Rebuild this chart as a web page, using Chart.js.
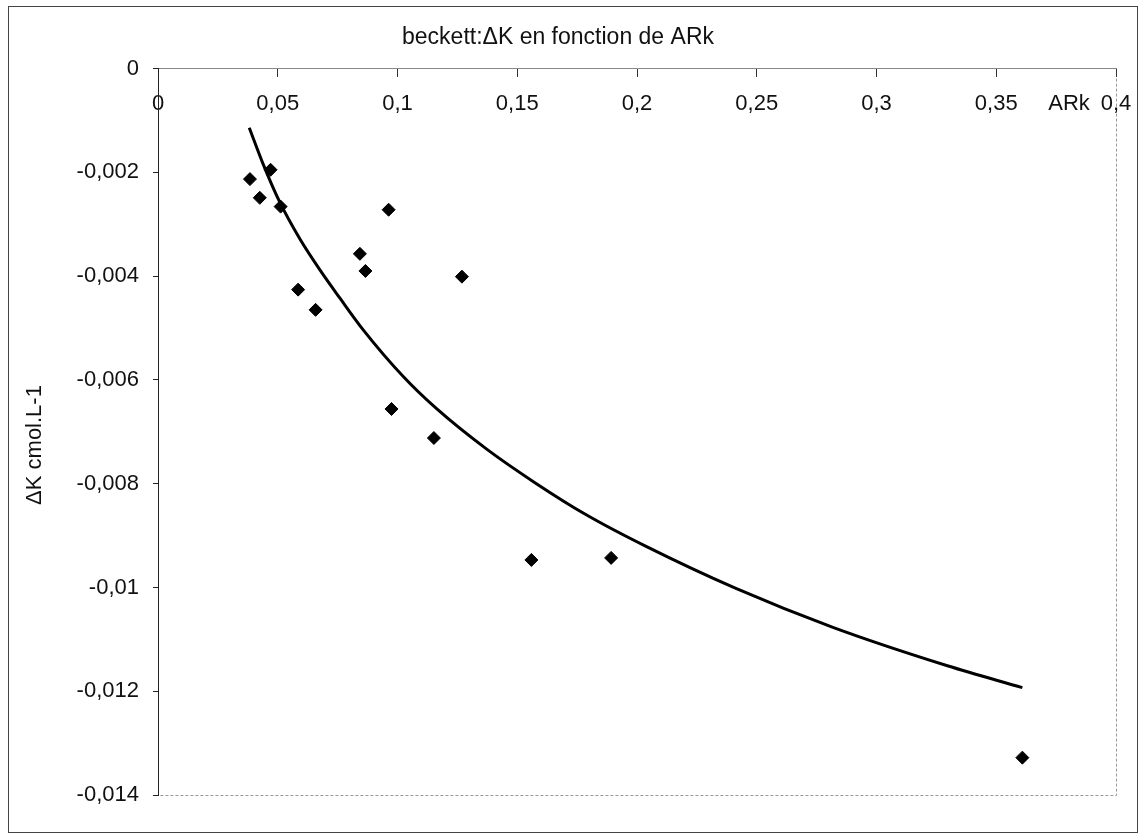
<!DOCTYPE html>
<html>
<head>
<meta charset="utf-8">
<script src="https://cdn.jsdelivr.net/npm/chart.js@4.4.0/dist/chart.umd.min.js"></script>
<style>
  html, body { margin: 0; padding: 0; background: #fff; }
  canvas { display: block; }
</style>
</head>
<body>
<canvas id="chart" width="1141" height="835"></canvas>
<script>
// ─── DATA ───────────────────────────────────────────────
// measured points (ARk, ΔK)
const arkValues = [0.0384, 0.0425, 0.0470, 0.0512, 0.0585, 0.0658, 0.0843, 0.0866, 0.0963, 0.0975, 0.1152, 0.1269, 0.1559, 0.1892, 0.3609];
const deltaKValues = [-0.00213, -0.00249, -0.00195, -0.00266, -0.00426, -0.00465, -0.00357, -0.00390, -0.00272, -0.00656, -0.00712, -0.00401, -0.00947, -0.00943, -0.01328];

// trend curve
const trendArk = [0.0381, 0.0439, 0.0509, 0.0592, 0.0676, 0.0759, 0.0856, 0.1023, 0.1162, 0.1371, 0.1580, 0.1788, 0.2038, 0.2413, 0.2818, 0.3296, 0.3609];
const trendDeltaK = [-0.00114, -0.00184, -0.00258, -0.00328, -0.00388, -0.00442, -0.00503, -0.00593, -0.00655, -0.00733, -0.00800, -0.00860, -0.00921, -0.01002, -0.01077, -0.01151, -0.01193];

const xTicks = [0, 0.05, 0.1, 0.15, 0.2, 0.25, 0.3, 0.35, 0.4];
const yTicks = [0, -0.002, -0.004, -0.006, -0.008, -0.01, -0.012, -0.014];

const TEXT = '#111';
const FONT = '"Liberation Sans", Arial, sans-serif';
const TICK_SIZE = 22;
const X_TICK_LEN = 8, X_PAD = 14;

// 0.05 -> "0,05"
const fmt = v => String(Number(Number(v).toFixed(3))).replace('.', ',');

Chart.defaults.font.family = FONT;
Chart.defaults.color = TEXT;

const decor = {
  id: 'decor',
  beforeDraw(chart) {
    const { ctx, chartArea: a } = chart;
    ctx.save();
    ctx.fillStyle = '#fff';
    ctx.fillRect(0, 0, chart.width, chart.height);
    // plot area right / bottom edge
    ctx.strokeStyle = '#999';
    ctx.lineWidth = 1;
    ctx.setLineDash([3, 2]);
    ctx.beginPath();
    ctx.moveTo(a.right + 0.5, a.top);
    ctx.lineTo(a.right + 0.5, a.bottom + 0.5);
    ctx.lineTo(a.left, a.bottom + 0.5);
    ctx.stroke();
    ctx.restore();
  },
  afterDraw(chart) {
    const { ctx } = chart;
    ctx.save();
    // outer frame
    ctx.strokeStyle = '#444';
    ctx.lineWidth = 1;
    ctx.strokeRect(8.5, 6.5, 1129, 826);

    ctx.fillStyle = TEXT;
    ctx.font = `${TICK_SIZE}px ${FONT}`;
    ctx.textAlign = 'center';
    ctx.textBaseline = 'middle';
    // x axis name, on the tick label line
    const yLab = chart.scales.y.getPixelForValue(0) + X_TICK_LEN + X_PAD + TICK_SIZE * 0.6;
    ctx.fillText('ARk', 1069, yLab);

    // y axis name
    ctx.translate(35, 445);
    ctx.rotate(-Math.PI / 2);
    ctx.fillText('ΔK cmol.L-1', 0, 0);
    ctx.restore();
  }
};

new Chart(document.getElementById('chart'), {
  type: 'scatter',
  data: {
    datasets: [
      {
        label: 'ΔK',
        data: arkValues.map((x, i) => ({ x, y: deltaKValues[i] })),
        pointStyle: 'rectRot',
        pointRadius: 6.5,
        backgroundColor: '#000',
        borderColor: '#000',
        borderWidth: 1,
      },
      {
        label: 'tendance',
        data: trendArk.map((x, i) => ({ x, y: trendDeltaK[i] })),
        showLine: true,
        pointRadius: 0,
        borderColor: '#000',
        borderWidth: 3,
        cubicInterpolationMode: 'monotone',
      }
    ]
  },
  options: {
    responsive: false,
    animation: false,
    layout: { padding: { left: 0, right: 25, top: 0, bottom: 40 } },
    plugins: {
      legend: { display: false },
      tooltip: { enabled: false },
      title: {
        display: true,
        text: 'beckett:ΔK en fonction de ARk',
        color: TEXT,
        font: { size: 23, weight: 'normal' },
        padding: { top: 24, bottom: 17 },
      },
    },
    scales: {
      x: {
        type: 'linear',
        position: { y: 0 },
        min: 0,
        max: 0.4,
        afterBuildTicks: s => { s.ticks = xTicks.map(v => ({ value: v })); },
        // let the layout padding alone decide the plot edges
        afterFit: s => { s.paddingLeft = 0; s.paddingRight = 0; },
        ticks: { color: TEXT, font: { size: TICK_SIZE }, padding: X_PAD, maxRotation: 0, autoSkip: false, callback: fmt },
        grid: { drawOnChartArea: false, color: '#333', tickLength: X_TICK_LEN },
        border: { color: '#888' },
      },
      y: {
        type: 'linear',
        min: -0.014,
        max: 0,
        afterBuildTicks: s => { s.ticks = yTicks.map(v => ({ value: v })); },
        afterFit: s => { s.width = 158; },
        ticks: { color: TEXT, font: { size: TICK_SIZE }, padding: 14, callback: fmt },
        grid: { drawOnChartArea: false, color: '#222', tickLength: 5 },
        border: { color: '#222' },
      }
    }
  },
  plugins: [decor]
});
</script>
</body>
</html>
